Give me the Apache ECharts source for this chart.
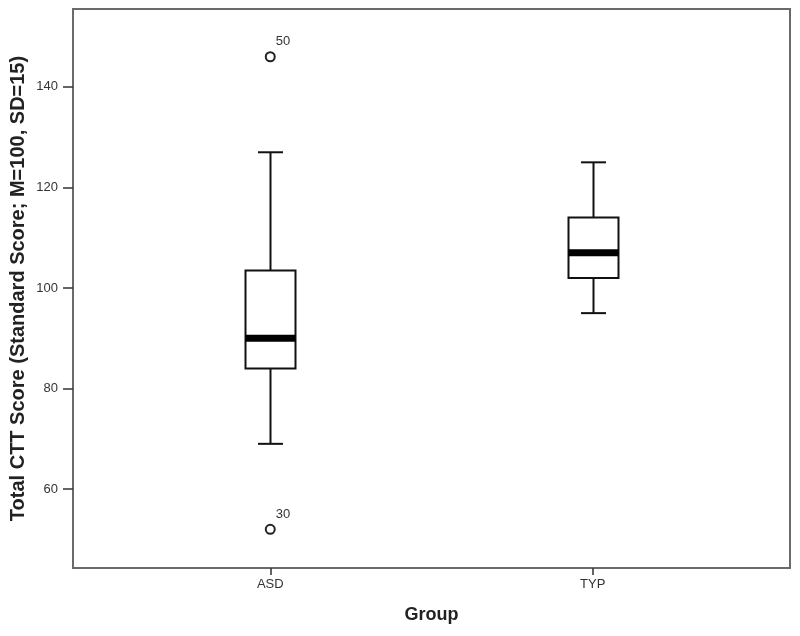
<!DOCTYPE html>
<html>
<head>
<meta charset="utf-8">
<script src="https://cdn.jsdelivr.net/npm/echarts@6/dist/echarts.min.js"></script>
<style>
  html, body { margin: 0; padding: 0; background: #fff; }
  #chart { width: 800px; height: 636px; }
</style>
</head>
<body>
<div id="chart"></div>
<script>
// ---- data ----
const categories = ['ASD', 'TYP'];
const whiskerLow = [69, 95];
const q1 = [84, 102];
const median = [90, 107];
const q3 = [103.5, 114];
const whiskerHigh = [127, 125];
const outlierGroup = ['ASD', 'ASD'];
const outlierValues = [146, 52];
const outlierIds = ['50', '30'];
const yTickValues = [60, 80, 100, 120, 140];
const yMin = 44.3;
const yMax = 155.5;
const yTitle = 'Total CTT Score (Standard Score; M=100, SD=15)';
const xTitle = 'Group';

const boxData = categories.map((c, i) => [i, whiskerLow[i], q1[i], median[i], q3[i], whiskerHigh[i]]);
const outlierData = outlierGroup.map((g, i) => [g, outlierValues[i]]);

const chart = echarts.init(document.getElementById('chart'), null, { renderer: 'canvas' });
const FONT = 'Liberation Sans, Arial, sans-serif';
const option = {
  animation: false,
  backgroundColor: '#fff',
  grid: [
    { left: 73, top: 9, width: 717, height: 559, show: true, borderColor: '#6a6a6a', borderWidth: 2, backgroundColor: 'transparent', containLabel: false, outerBoundsMode: 'none' },
    { left: 109, top: 9, width: 645, height: 559, containLabel: false, outerBoundsMode: 'none' }
  ],
  xAxis: [
    { gridIndex: 0, type: 'category', data: categories, show: false },
    {
      gridIndex: 1, type: 'category', data: categories, boundaryGap: true,
      axisLine: { show: false },
      axisTick: { show: true, alignWithLabel: true, length: 7, lineStyle: { color: '#333', width: 1.5 } },
      axisLabel: { margin: 10, fontSize: 13, color: '#333', fontFamily: FONT },
      splitLine: { show: false },
      name: xTitle, nameLocation: 'middle', nameGap: 38, nameMoveOverlap: false,
      nameTextStyle: { fontSize: 18, fontWeight: 'bold', color: '#222', fontFamily: FONT }
    }
  ],
  yAxis: [
    {
      gridIndex: 0, type: 'value', min: yMin, max: yMax,
      axisLine: { show: true, lineStyle: { color: '#6a6a6a', width: 2 } },
      axisTick: { show: true, length: 10, customValues: yTickValues, lineStyle: { color: '#333', width: 1.5 } },
      axisLabel: { customValues: yTickValues, margin: 15, fontSize: 13, color: '#333', fontFamily: FONT },
      splitLine: { show: false },
      name: yTitle, nameLocation: 'middle', nameGap: 45, nameRotate: 90, nameMoveOverlap: false,
      nameTextStyle: { fontSize: 20, fontWeight: 'bold', color: '#222', fontFamily: FONT }
    },
    { gridIndex: 1, type: 'value', min: yMin, max: yMax, show: false }
  ],
  series: [
    {
      type: 'custom',
      xAxisIndex: 1, yAxisIndex: 1,
      data: boxData,
      encode: { x: 0, y: [1, 2, 3, 4, 5] },
      renderItem: function (params, api) {
        const c = api.value(0);
        const pLow = api.coord([c, api.value(1)]);
        const pQ1 = api.coord([c, api.value(2)]);
        const pMed = api.coord([c, api.value(3)]);
        const pQ3 = api.coord([c, api.value(4)]);
        const pHigh = api.coord([c, api.value(5)]);
        const x = Math.round(pLow[0]) + 0.5;
        const bw = 50, cw = 25, lw = 2;
        const ls = { stroke: '#111', lineWidth: lw };
        return {
          type: 'group',
          children: [
            { type: 'line', shape: { x1: x, y1: pHigh[1], x2: x, y2: pQ3[1] }, style: ls },
            { type: 'line', shape: { x1: x, y1: pQ1[1], x2: x, y2: pLow[1] }, style: ls },
            { type: 'line', shape: { x1: x - cw / 2, y1: pHigh[1], x2: x + cw / 2, y2: pHigh[1] }, style: ls },
            { type: 'line', shape: { x1: x - cw / 2, y1: pLow[1], x2: x + cw / 2, y2: pLow[1] }, style: ls },
            { type: 'rect', shape: { x: x - bw / 2, y: pQ3[1], width: bw, height: pQ1[1] - pQ3[1] }, style: { fill: '#fff', stroke: '#111', lineWidth: lw } },
            { type: 'rect', shape: { x: x - bw / 2, y: pMed[1] - 3.5, width: bw, height: 7 }, style: { fill: '#000' } }
          ]
        };
      }
    },
    {
      type: 'scatter',
      xAxisIndex: 1, yAxisIndex: 1,
      data: outlierData,
      symbol: 'circle',
      symbolSize: 9,
      itemStyle: { color: '#fff', borderColor: '#222', borderWidth: 2, opacity: 1 },
      label: {
        show: true,
        position: [11, -16],
        formatter: function (p) { return outlierIds[p.dataIndex]; },
        fontSize: 13, color: '#333', fontFamily: FONT
      },
      z: 5
    }
  ]
};
chart.setOption(option);
</script>
</body>
</html>
